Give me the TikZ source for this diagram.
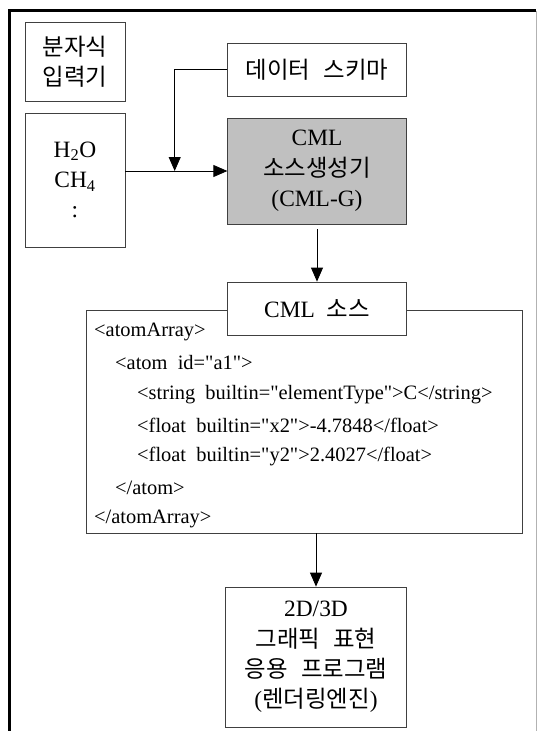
\documentclass[tikz,border=0pt]{standalone}
\usepackage{fontspec}
\setmainfont{Liberation Serif}
\newfontfamily\kor{Noto Sans CJK KR}[WordSpace=2.5]
\usetikzlibrary{arrows.meta}
\definecolor{genfill}{RGB}{192,192,192}
\newcommand\qt{\textquotedbl}

\begin{document}
\begin{tikzpicture}[x=1bp,y=-1bp,
    box/.style={draw=black!75,line width=0.8bp,fill=white,align=center,
      inner sep=0pt,font=\fontsize{23.5}{30.5}\selectfont},
    flow/.style={line width=0.8bp,-{Triangle[length=14bp,width=12bp]}},
    codeline/.style={anchor=west,inner sep=0pt,font=\fontsize{20.5}{22}\selectfont}]

  \useasboundingbox (0,0) rectangle (537,731);

  % frame
  \draw[line width=3bp] (9.5,731) -- (9.5,10.8) -- (536,10.8);
  \draw[gray!60,line width=1bp] (536,10.8) -- (536,731);

  % input side
  \node[box,minimum width=100bp,minimum height=79bp] (input) at (75,61.5)
    {{\kor 분자식}\\{\kor 입력기}};
  \node[box,minimum width=100bp,minimum height=134bp] (formula) at (75,180)
    {H\textsubscript{2}O\\CH\textsubscript{4}\\:};

  % generator
  \node[box,minimum width=178.5bp,minimum height=53bp] (schema) at (317,69.5)
    {\kor 데이터 스키마};
  \node[box,fill=genfill,minimum width=178.5bp,minimum height=106bp] (gen) at (317,171)
    {CML\\{\kor 소스생성기}\\(CML-G)};

  % source
  \node[draw=black!75,line width=0.8bp,minimum width=436bp,minimum height=223bp,
    inner sep=0pt] (code) at (304,421.5) {};
  \node[box,minimum width=179bp,minimum height=53bp] (src) at (317,308.5)
    {CML\ \ {\kor 소스}};

  \node[codeline] at (94,332) {<atomArray>};
  \node[codeline] at (115,363) {<atom\ \ id=\qt a1\qt>};
  \node[codeline] at (137,394.5) {<string\ \ builtin=\qt elementType\qt>C</string>};
  \node[codeline] at (137,425.5) {<float\ \ builtin=\qt x2\qt>-4.7848</float>};
  \node[codeline] at (137,456.5) {<float\ \ builtin=\qt y2\qt>2.4027</float>};
  \node[codeline] at (115,488) {</atom>};
  \node[codeline] at (94,519) {</atomArray>};

  % renderer
  \node[box,minimum width=181bp,minimum height=140bp] (app) at (316,657)
    {2D/3D\\{\kor 그래픽 표현}\\{\kor 응용 프로그램}\\({\kor 렌더링엔진})};

  % connectors
  \coordinate (join) at (174.7,171);
  \draw[flow] (formula.east |- gen.west) -- (gen.west);
  \draw[flow] (schema.west) -| (join);
  \draw[flow,shorten <=5bp] (gen.south) -- (src.north);
  \draw[flow] (code.south -| app.north) -- (app.north);
\end{tikzpicture}
\end{document}
